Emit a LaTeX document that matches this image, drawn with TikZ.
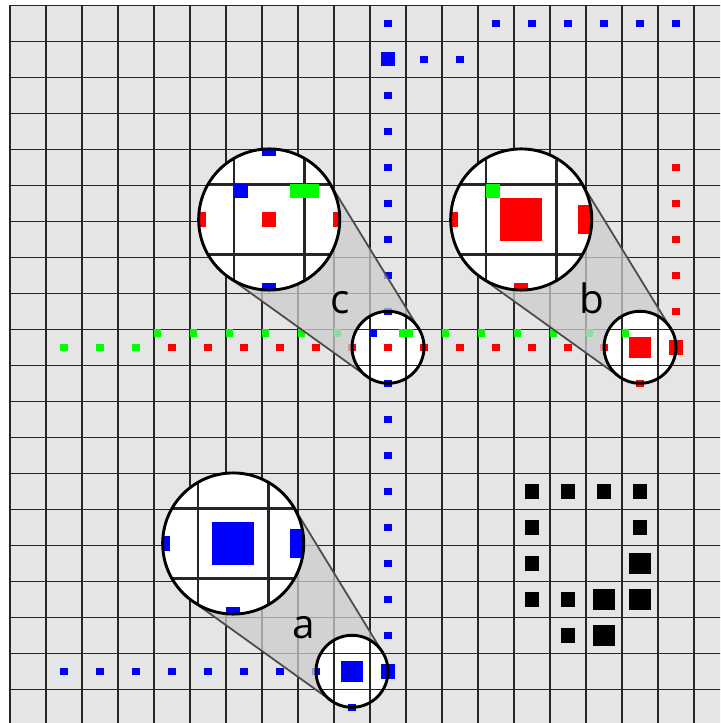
\documentclass[tikz,border=0pt]{standalone}
\usepackage{fontspec}
\setmainfont{Open Sans}

\tikzset{
  gridline/.style={draw=black!85},
  spyhole/.style={circle, minimum size=2cm, inner sep=0pt, outer sep=0pt},
  spyglass/.style={circle, minimum size=3.92cm, inner sep=0pt, outer sep=0pt},
  lensrim/.style={line width=2.3pt},
  cone/.style={fill=black!20, fill opacity=0.75},
  coneedge/.style={draw=black!70, line width=1.4pt},
  tag/.style={font=\fontsize{32}{36}\selectfont, anchor=base},
}

% square of size #4 in the middle of cell (#2,#3)
\newcommand{\dotsq}[4]{\fill[#1] ({#2+0.5-#4/2},{-#3-0.5-#4/2}) rectangle +(#4,#4);}
% small square in the upper left corner of cell (#2,#3)
\newcommand{\cornsq}[3]{\fill[#1] (#2,-#3) rectangle +(0.2,-0.2);}

\newcommand{\cells}[1]{%
  \foreach \i in {0,...,19} {
    \draw[gridline, line width=#1] (\i,0) -- (\i,-20);
    \draw[gridline, line width=#1] (0,-\i) -- (20,-\i);
  }
  % blue
  \foreach \cc in {10,13,14,15,16,17,18} {\dotsq{blue}{\cc}{0}{0.2}}
  \foreach \cc in {11,12} {\dotsq{blue}{\cc}{1}{0.2}}
  \foreach \rr in {2,...,8} {\dotsq{blue}{10}{\rr}{0.2}}
  \foreach \rr in {10,...,17} {\dotsq{blue}{10}{\rr}{0.2}}
  \foreach \cc in {1,...,8} {\dotsq{blue}{\cc}{18}{0.2}}
  \dotsq{blue}{9}{19}{0.2}
  \dotsq{blue}{10}{1}{0.4}
  \dotsq{blue}{10}{18}{0.4}
  \dotsq{blue}{9}{18}{0.6}
  \cornsq{blue}{10}{9}
  % green
  \foreach \cc in {1,2,3} {\dotsq{green}{\cc}{9}{0.2}}
  \foreach \cc in {4,...,9} {\cornsq{green}{\cc}{9}}
  \foreach \cc in {12,...,17} {\cornsq{green}{\cc}{9}}
  \fill[green] (10.8,-9) rectangle (11.2,-9.2);
  % red
  \foreach \cc in {4,...,16} {\dotsq{red}{\cc}{9}{0.2}}
  \foreach \rr in {4,...,8} {\dotsq{red}{18}{\rr}{0.2}}
  \dotsq{red}{17}{10}{0.2}
  \dotsq{red}{18}{9}{0.4}
  \dotsq{red}{17}{9}{0.6}
  % black
  \foreach \cc/\rr in {14/13,15/13,16/13,17/13,14/14,17/14,14/15,14/16,15/16,15/17}
    {\dotsq{black}{\cc}{\rr}{0.4}}
  \foreach \cc/\rr in {17/15,16/16,17/16,16/17}
    {\dotsq{black}{\cc}{\rr}{0.6}}
}

\begin{document}
\begin{tikzpicture}
  \useasboundingbox (-0.278,0.147) rectangle (19.722,-19.936);
  \clip (-0.278,0.147) rectangle (19.722,-19.936);
  \fill[black!10] (0,0) rectangle (20,-20);
  \cells{1.1pt}

  \foreach \sx/\sy/\lab in {9.5/-18.5/a, 10.5/-9.5/c, 17.5/-9.5/b} {
    \node[spyhole] (s\lab) at (\sx,\sy) {};
    \node[spyglass] (g\lab) at ({\sx-3.3},{\sy+3.55}) {};
    \fill[cone] (g\lab.31.49) -- (s\lab.31.49) -- (s\lab.234.33) -- (g\lab.234.33) -- cycle;
    \draw[coneedge] (g\lab.31.49) -- (s\lab.31.49) (g\lab.234.33) -- (s\lab.234.33);
    % what lies under the small lens
    \begin{scope}
      \clip (s\lab.center) circle (1);
      \fill[white] (s\lab.center) circle (1);
      \cells{1.1pt}
    \end{scope}
    \draw[lensrim] (s\lab.center) circle (1);
    % the same, magnified
    \begin{scope}
      \clip (g\lab.center) circle (1.96);
      \fill[white] (g\lab.center) circle (1.96);
      \begin{scope}[shift={({\sx-3.3},{\sy+3.55})}, scale=1.96, shift={({0-(\sx)},{0-(\sy)})}]
        \cells{2.16pt}
      \end{scope}
    \end{scope}
    \draw[lensrim] (g\lab.center) circle (1.96);
    \node[tag] (t\lab) at ({\sx-1.33},{\sy+0.925}) {\lab};
  }
\end{tikzpicture}
\end{document}
